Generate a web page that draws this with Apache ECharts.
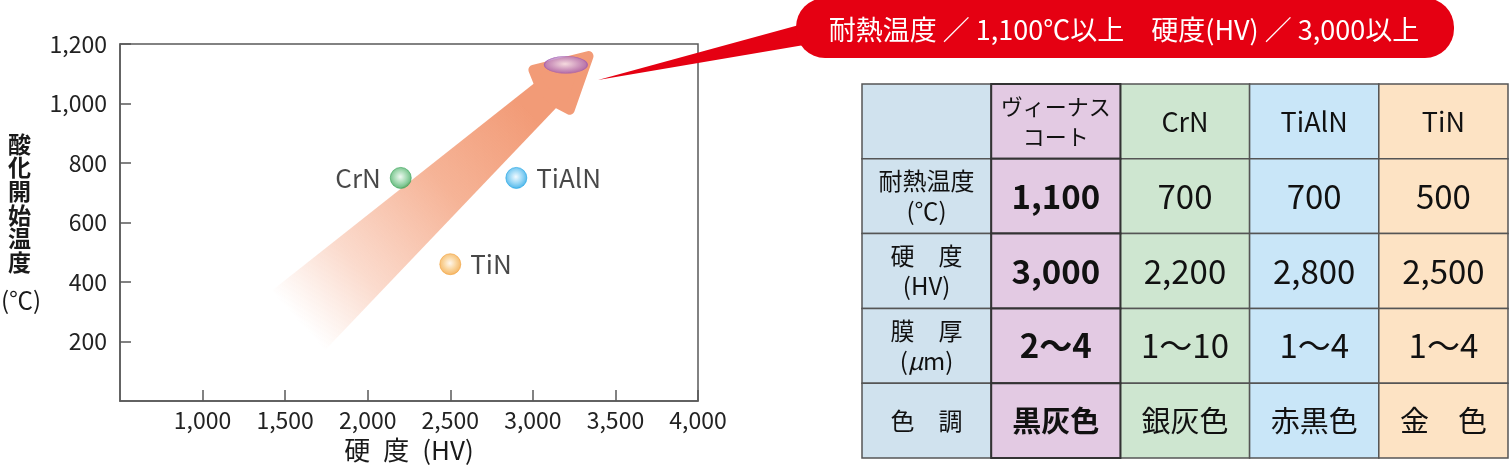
<!DOCTYPE html>
<html>
<head>
<meta charset="utf-8">
<script src="https://cdn.jsdelivr.net/npm/echarts@6/dist/echarts.min.js"></script>
<style>
  html, body { margin: 0; padding: 0; background: #fff; }
  #chart { width: 1510px; height: 468px; }
</style>
</head>
<body>
<div id="chart"></div>
<script>
// 散布図のデータ
const coatingNames = ['ヴィーナスコート', 'CrN', 'TiAlN', 'TiN']
const plotHardness = [3200, 2200, 2900, 2500]
const plotTemp = [1130, 750, 750, 460]
const xTickValues = [1000, 1500, 2000, 2500, 3000, 3500, 4000]
const yTickValues = [200, 400, 600, 800, 1000, 1200]

// 矢印（データ座標：根元 → 先端）
const arrowTail = [1578, 270]
const arrowTip = [3364, 1173]

// 表のデータ
const tableHeaders = ['', 'ヴィーナス\nコート', 'CrN', 'TiAlN', 'TiN']
const rowLabels = ['耐熱温度\n(℃)', '硬　度\n(HV)', '膜　厚\n({it|μ}m)', '色　調']
const heatResist = [1100, 700, 700, 500]
const hardnessHV = [3000, 2200, 2800, 2500]
const filmThickness = ['2～4', '1～10', '1～4', '1～4']
const colorTone = ['黒灰色', '銀灰色', '赤黒色', '金　色']

const FONT = '"Noto Sans CJK JP", "Noto Sans", sans-serif'
const fmt = v => v.toLocaleString('en-US')

// 点のスタイル
const pointStyles = [
  { edge: '#a25caf', mid: '#c79ad0', core: '#f6eaf8', size: [43, 17], label: null },
  { edge: '#38a458', mid: '#8acf9c', core: '#eaf7ee', size: 21, label: 'left' },
  { edge: '#1fa3e4', mid: '#7fcdf3', core: '#eef9ff', size: 21, label: 'right' },
  { edge: '#f2a23c', mid: '#f8c982', core: '#fff6ea', size: 21, label: 'right' }
]

const columnFills = ['#d0e2ee', '#e3cae3', '#cee6d0', '#c9e6f8', '#fde3c4']

const chart = echarts.init(document.getElementById('chart'))

const scatterData = coatingNames.map((name, i) => {
  const st = pointStyles[i]
  return {
    name,
    value: [plotHardness[i], plotTemp[i]],
    symbolSize: st.size,
    itemStyle: {
      color: new echarts.graphic.RadialGradient(0.48, 0.45, 0.55, [
        { offset: 0, color: st.core },
        { offset: 0.55, color: st.mid },
        { offset: 1, color: st.edge }
      ]),
      borderColor: st.edge,
      borderWidth: 0.8
    },
    label: st.label
      ? { show: true, position: st.label, distance: 9, formatter: name }
      : { show: false }
  }
})

// 表のセル
const dataRows = [heatResist.map(fmt), hardnessHV.map(fmt), filmThickness, colorTone]
const tableCells = []
const pushCell = (col, row) => {
  let text
  if (row === 0) text = tableHeaders[col]
  else if (col === 0) text = rowLabels[row - 1]
  else text = dataRows[row - 1][col - 1]
  tableCells.push({ value: [col, row], text })
}
for (let col = 0; col < 5; col++) {
  if (col === 1) continue
  for (let row = 0; row < 5; row++) pushCell(col, row)
}
for (let row = 0; row < 5; row++) pushCell(1, row)

const cellStyle = (col, row) => {
  if (row === 0) return col === 1 ? { fontSize: 22, lineHeight: 30, fontWeight: 'normal' } : { fontSize: 27, lineHeight: 30, fontWeight: 'normal' }
  if (col === 0) return { fontSize: 24, lineHeight: 30, fontWeight: 'normal' }
  const fs = row === 4 ? 29 : 33
  return { fontSize: fs, lineHeight: 36, fontWeight: col === 1 ? 'bold' : 'normal' }
}

const option = {
  animation: false,
  textStyle: { fontFamily: FONT },
  grid: [
    { left: 120, top: 44, width: 578, height: 360, show: true, borderColor: '#5a5a5a', borderWidth: 1.5, backgroundColor: 'transparent' },
    { left: 862, top: 84, width: 646, height: 374 }
  ],
  xAxis: [
    {
      gridIndex: 0,
      type: 'value',
      min: 500,
      max: 4000,
      interval: 500,
      name: '硬\u2002度\u2002(HV)',
      nameLocation: 'middle',
      nameGap: 31,
      nameTextStyle: { fontSize: 26, color: '#1a1a1a', fontFamily: FONT },
      axisLine: { show: true, lineStyle: { color: '#5a5a5a', width: 1.5 } },
      axisTick: { show: true, inside: true, length: 11, customValues: xTickValues, lineStyle: { color: '#5a5a5a', width: 1.5 } },
      axisLabel: { fontSize: 23, color: '#222', margin: 8, customValues: xTickValues, formatter: v => fmt(v), fontFamily: FONT },
      splitLine: { show: false }
    },
    { gridIndex: 1, type: 'category', data: tableHeaders.map((_, i) => String(i)), show: false }
  ],
  yAxis: [
    {
      gridIndex: 0,
      type: 'value',
      min: 0,
      max: 1200,
      interval: 200,
      axisLine: { show: true, lineStyle: { color: '#5a5a5a', width: 1.5 } },
      axisTick: { show: true, inside: true, length: 11, customValues: yTickValues, lineStyle: { color: '#5a5a5a', width: 1.5 } },
      axisLabel: { fontSize: 23, color: '#222', margin: 13, customValues: yTickValues, formatter: v => fmt(v), fontFamily: FONT },
      splitLine: { show: false }
    },
    { gridIndex: 1, type: 'category', inverse: true, data: ['0', '1', '2', '3', '4'], show: false }
  ],
  series: [
    {
      type: 'custom',
      xAxisIndex: 0,
      yAxisIndex: 0,
      z: 1,
      silent: true,
      data: [[arrowTail[0], arrowTail[1], arrowTip[0], arrowTip[1]]],
      renderItem: (params, api) => {
        const p0 = api.coord([api.value(0), api.value(1)])
        const p1 = api.coord([api.value(2), api.value(3)])
        const dx = p1[0] - p0[0], dy = p1[1] - p0[1]
        const L = Math.hypot(dx, dy)
        const u = [dx / L, dy / L]
        const n = [-u[1], u[0]]
        const pt = (a, b) => [p1[0] + u[0] * a + n[0] * b, p1[1] + u[1] * a + n[1] * b]
        const salmon = '#f29b77'
        // 軸部分（グラデーション）
        const shaft = [pt(-L, 40), pt(-58, 16), pt(-58, -16), pt(-L, -40)]
        const grad = {
          type: 'linear', global: true,
          x: p0[0], y: p0[1], x2: p1[0], y2: p1[1],
          colorStops: [
            { offset: 0, color: 'rgba(244,160,124,0)' },
            { offset: 0.2, color: 'rgba(244,160,124,0.38)' },
            { offset: 0.5, color: 'rgba(243,158,121,0.78)' },
            { offset: 0.78, color: 'rgba(242,155,119,1)' },
            { offset: 1, color: salmon }
          ]
        }
        // 矢じり（角を丸める）
        const head = [pt(-56, 27), pt(-6, 0), pt(-56, -27), pt(-62, -11), pt(-62, 11)]
        return {
          type: 'group',
          children: [
            { type: 'polygon', shape: { points: shaft }, style: { fill: grad } },
            { type: 'polygon', shape: { points: head }, style: { fill: salmon, stroke: salmon, lineWidth: 10, lineJoin: 'round' } }
          ]
        }
      }
    },
    {
      type: 'scatter',
      xAxisIndex: 0,
      yAxisIndex: 0,
      z: 3,
      data: scatterData,
      label: { fontSize: 26, color: '#1a1a1a', fontFamily: FONT }
    },
    {
      type: 'custom',
      xAxisIndex: 1,
      yAxisIndex: 1,
      silent: true,
      data: tableCells.map(c => c.value),
      renderItem: (params, api) => {
        const col = api.value(0), row = api.value(1)
        const c = api.coord([col, row])
        const s = api.size([1, 1])
        const st = cellStyle(col, row)
        const venus = col === 1
        return {
          type: 'group',
          children: [
            {
              type: 'rect',
              shape: { x: c[0] - s[0] / 2, y: c[1] - s[1] / 2, width: s[0], height: s[1] },
              style: { fill: columnFills[col], stroke: venus ? '#333' : '#555', lineWidth: venus ? 2 : 1.5 }
            },
            {
              type: 'text',
              x: c[0],
              y: c[1],
              style: {
                text: tableCells[params.dataIndex].text,
                fontSize: st.fontSize,
                lineHeight: st.lineHeight,
                fontWeight: st.fontWeight,
                fontFamily: FONT,
                fill: '#111',
                align: 'center',
                verticalAlign: 'middle',
                rich: { it: { fontStyle: 'italic', fontSize: st.fontSize, fontFamily: FONT, fill: '#111' } }
              }
            }
          ]
        }
      }
    }
  ],
  graphic: [
    // 縦軸タイトル
    {
      type: 'text', left: 8, top: 132, z: 10,
      style: { text: '酸\n化\n開\n始\n温\n度', fontSize: 23, lineHeight: 23.7, fontWeight: 'bold', fontFamily: FONT, fill: '#1a1a1a' }
    },
    {
      type: 'text', left: 1, top: 288, z: 10,
      style: { text: '(℃)', fontSize: 24, fontFamily: FONT, fill: '#1a1a1a' }
    },
    // 吹き出し
    {
      type: 'polygon', z: 20,
      shape: { points: [[598, 80], [810, 22], [810, 44]] },
      style: { fill: '#e50012' }
    },
    {
      type: 'rect', z: 20,
      shape: { x: 796, y: -2, width: 658, height: 60, r: 29 },
      style: { fill: '#e50012' }
    },
    {
      type: 'text', z: 21, x: 1124, y: 30,
      style: {
        text: '耐熱温度 ／ ' + fmt(heatResist[0]) + '℃以上　硬度(HV) ／ ' + fmt(hardnessHV[0]) + '以上',
        fontSize: 27, fontFamily: FONT, fill: '#fff', align: 'center', verticalAlign: 'middle'
      }
    }
  ]
}

chart.setOption(option)
window.addEventListener('resize', () => chart.resize())
</script>
</body>
</html>
